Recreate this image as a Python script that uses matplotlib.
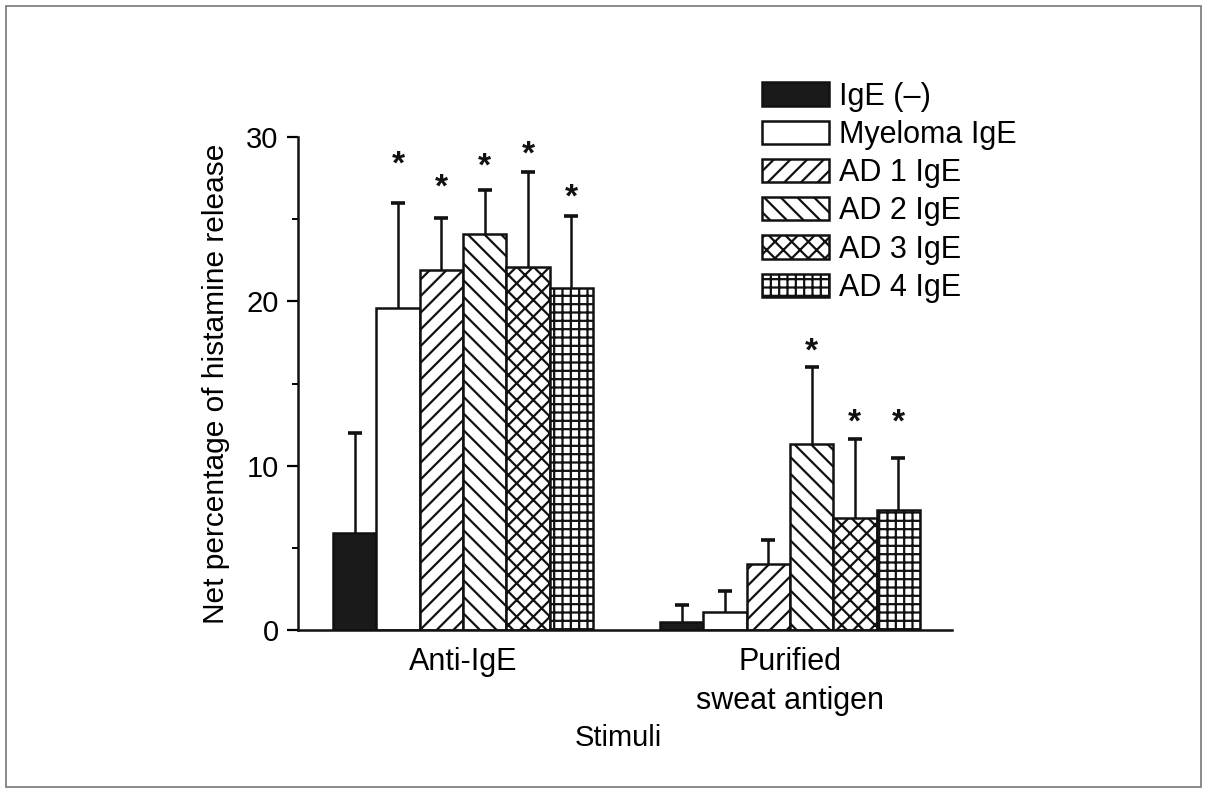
import matplotlib
matplotlib.use("Agg")
import matplotlib.pyplot as plt
import numpy as np
from matplotlib.patches import Patch, Rectangle
from matplotlib.ticker import MultipleLocator

plt.rcParams.update({
    "font.family": "sans-serif",
    "font.sans-serif": ["Liberation Sans", "DejaVu Sans"],
    "hatch.linewidth": 1.6,
})

stimuli = ["Anti-IgE", "Purified\nsweat antigen"]
series = ["IgE (\u2013)", "Myeloma IgE", "AD 1 IgE", "AD 2 IgE", "AD 3 IgE", "AD 4 IgE"]
means = {
    "Anti-IgE": [5.9, 19.6, 21.9, 24.1, 22.1, 20.8],
    "Purified\nsweat antigen": [0.5, 1.1, 4.0, 11.3, 6.8, 7.3],
}
err_tops = {
    "Anti-IgE": [12.0, 26.0, 25.1, 26.8, 27.9, 25.2],
    "Purified\nsweat antigen": [1.5, 2.4, 5.5, 16.0, 11.6, 10.5],
}
# significance markers: (series index, height)
stars = {
    "Anti-IgE": [(1, 28.3), (2, 26.9), (3, 28.2), (4, 28.9), (5, 26.3)],
    "Purified\nsweat antigen": [(3, 16.9), (4, 12.6), (5, 12.6)],
}

fills = ["#1a1a1a", "white", "white", "white", "white", "white"]
hatches = [None, None, "//", "\\\\", "xx", "++"]

fig = plt.figure(figsize=(12.07, 7.93), dpi=100, facecolor="white")
ax = fig.add_axes([0.247, 0.2055, 0.542, 0.6215])

group_offsets = [0.0, 7.55]
n = len(series)
lw = 1.8
for g, stim in enumerate(stimuli):
    xs = group_offsets[g] + np.arange(n)
    vals = np.array(means[stim])
    tops = np.array(err_tops[stim])
    for i in range(n):
        ax.bar(xs[i], vals[i], width=1.0, color=fills[i], edgecolor="#111111",
               linewidth=lw, hatch=hatches[i], zorder=2)
    # one-sided (upper) error bars with a cap only at the top
    ax.vlines(xs, vals, tops, color="#111111", linewidth=1.8, zorder=1)
    ax.plot(xs, tops, linestyle="none", marker="_", markersize=10,
            markeredgewidth=2.6, color="#111111", zorder=1)
    for i, h in stars[stim]:
        ax.text(xs[i], h, "*", ha="center", va="center", fontsize=24,
                fontweight="bold", color="#111111")

ax.set_xlim(-1.31, 13.8)
ax.set_ylim(0, 30)
ax.set_xticks([group_offsets[0] + 2.5, group_offsets[1] + 2.5])
ax.set_xticklabels(stimuli, fontsize=22, linespacing=1.4)
ax.tick_params(axis="x", length=0, pad=12)
ax.yaxis.set_major_locator(MultipleLocator(10))
ax.yaxis.set_minor_locator(MultipleLocator(5))
ax.tick_params(axis="y", which="major", direction="out", length=8, width=1.6,
               labelsize=21, pad=6)
ax.tick_params(axis="y", which="minor", direction="out", length=4, width=1.4)
for side in ("top", "right"):
    ax.spines[side].set_visible(False)
for side in ("left", "bottom"):
    ax.spines[side].set_linewidth(1.8)
    ax.spines[side].set_color("#111111")

ax.set_ylabel("Net percentage of histamine release", fontsize=21.5, labelpad=12)
ax.set_xlabel("Stimuli", fontsize=21)
ax.xaxis.set_label_coords(0.49, -0.19)

handles = [Patch(facecolor=fills[i], edgecolor="#111111", linewidth=lw,
                 hatch=hatches[i], label=series[i]) for i in range(n)]
fig.legend(handles=handles, loc="upper left", bbox_to_anchor=(0.631, 0.897),
           frameon=False, fontsize=22, handlelength=2.2, handleheight=0.8,
           handletextpad=0.33, labelspacing=0.27, borderpad=0, borderaxespad=0)

fig.patches.append(Rectangle((0.005, 0.007), 0.99, 0.985, transform=fig.transFigure,
                             fill=False, edgecolor="#777777", linewidth=1.2))

fig.savefig("out.png", dpi=100, facecolor="white")
